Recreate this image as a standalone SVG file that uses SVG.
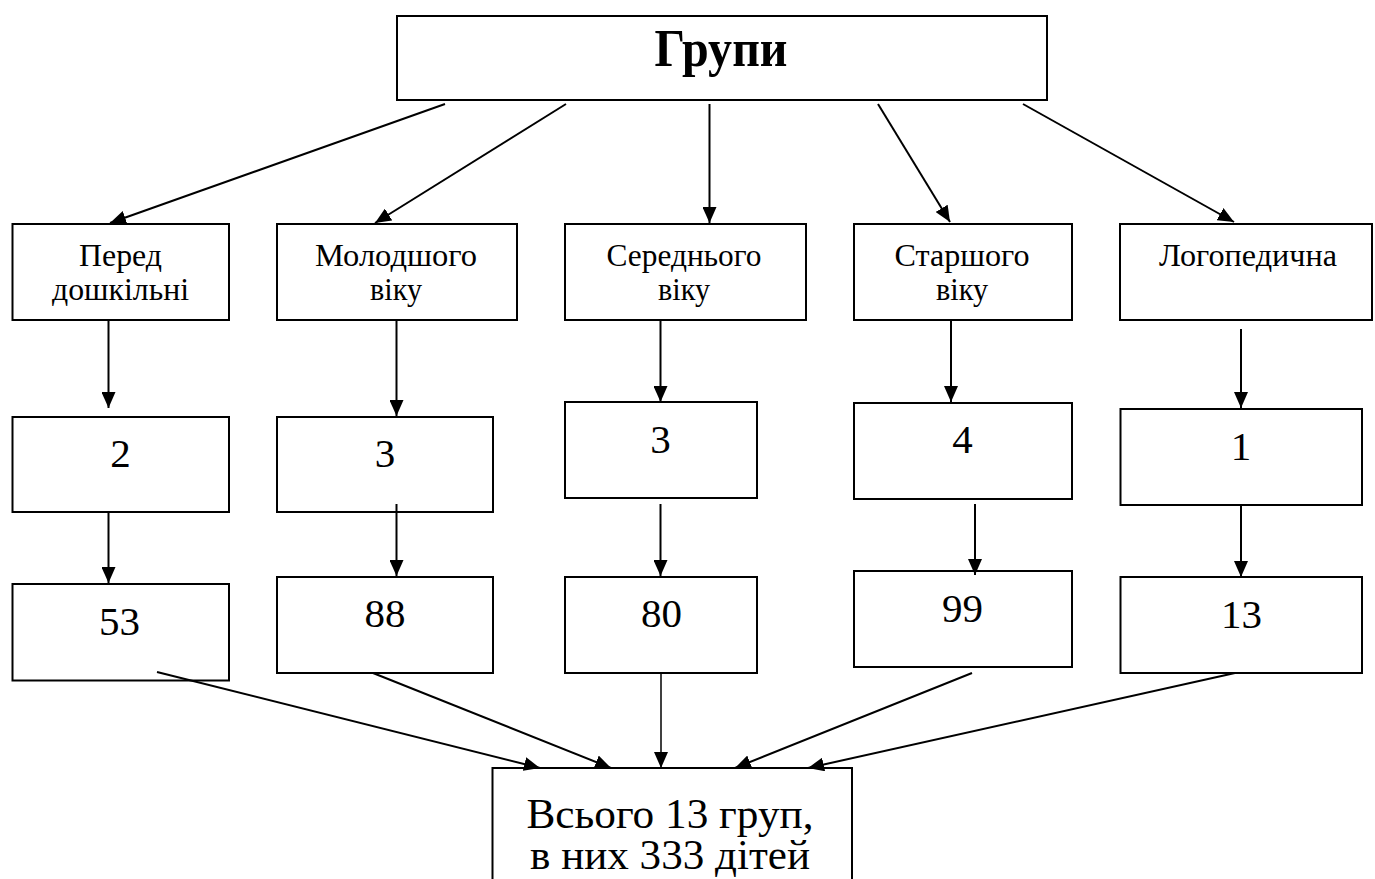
<svg xmlns="http://www.w3.org/2000/svg" width="1375" height="879" viewBox="0 0 1375 879">
<style>
.box{fill:#fff;stroke:#000;stroke-width:2}
.t{font-family:"Liberation Serif","DejaVu Serif",serif;fill:#000;text-anchor:middle}
.lbl{font-size:32px}
.num{font-size:41px}
.ttl{font-size:52px;font-weight:bold}
.big{font-size:42px}
.c{stroke:#000;stroke-width:2;fill:none;marker-end:url(#ah)}
</style>
<defs>
<marker id="ah" markerUnits="userSpaceOnUse" viewBox="0 0 16 14" refX="16" refY="7" markerWidth="16" markerHeight="14" orient="auto">
<path d="M0,0 L16,7 L0,14 z" fill="#000"/>
</marker>
</defs>
<g id="title">
<rect class="box" x="397" y="16" width="650" height="84"/>
<text class="t ttl" x="721" y="66" textLength="133" lengthAdjust="spacingAndGlyphs">Групи</text>
</g>
<g id="g1">
<rect class="box" x="12.5" y="224" width="216.5" height="96"/>
<text class="t lbl" x="120.5" y="266" textLength="83" lengthAdjust="spacingAndGlyphs">Перед</text>
<text class="t lbl" x="120.5" y="300" textLength="137" lengthAdjust="spacingAndGlyphs">дошкільні</text>
</g>
<g id="g2">
<rect class="box" x="277" y="224" width="240" height="96"/>
<text class="t lbl" x="396" y="266" textLength="162" lengthAdjust="spacingAndGlyphs">Молодшого</text>
<text class="t lbl" x="396" y="300" textLength="52" lengthAdjust="spacingAndGlyphs">віку</text>
</g>
<g id="g3">
<rect class="box" x="565" y="224" width="241" height="96"/>
<text class="t lbl" x="684" y="266" textLength="155" lengthAdjust="spacingAndGlyphs">Середнього</text>
<text class="t lbl" x="684" y="300" textLength="52" lengthAdjust="spacingAndGlyphs">віку</text>
</g>
<g id="g4">
<rect class="box" x="854" y="224" width="218" height="96"/>
<text class="t lbl" x="962" y="266" textLength="135" lengthAdjust="spacingAndGlyphs">Старшого</text>
<text class="t lbl" x="962" y="300" textLength="52" lengthAdjust="spacingAndGlyphs">віку</text>
</g>
<g id="g5">
<rect class="box" x="1120" y="224" width="252" height="96"/>
<text class="t lbl" x="1248" y="266" textLength="178" lengthAdjust="spacingAndGlyphs">Логопедична</text>
</g>
<g id="n1">
<rect class="box" x="12.5" y="417" width="216.5" height="95"/>
<text class="t num" x="120.5" y="467">2</text>
</g>
<g id="n2">
<rect class="box" x="277" y="417" width="216" height="95"/>
<text class="t num" x="385" y="467">3</text>
</g>
<g id="n3">
<rect class="box" x="565" y="402" width="192" height="96"/>
<text class="t num" x="660.5" y="453">3</text>
</g>
<g id="n4">
<rect class="box" x="854" y="403" width="218" height="96"/>
<text class="t num" x="962.5" y="453">4</text>
</g>
<g id="n5">
<rect class="box" x="1120.5" y="409" width="241.5" height="96"/>
<text class="t num" x="1241" y="460">1</text>
</g>
<g id="c1">
<rect class="box" x="12.5" y="584" width="216.5" height="96.5"/>
<text class="t num" x="119.5" y="635">53</text>
</g>
<g id="c2">
<rect class="box" x="277" y="577" width="216" height="96"/>
<text class="t num" x="385" y="627">88</text>
</g>
<g id="c3">
<rect class="box" x="565" y="577" width="192" height="96"/>
<text class="t num" x="661.5" y="627">80</text>
</g>
<g id="c4">
<rect class="box" x="854" y="571" width="218" height="96"/>
<text class="t num" x="962.5" y="622">99</text>
</g>
<g id="c5">
<rect class="box" x="1120.5" y="577" width="241.5" height="96"/>
<text class="t num" x="1241.5" y="628">13</text>
</g>
<g id="total">
<rect class="box" x="492.5" y="768" width="359.5" height="130"/>
<text class="t big" x="670" y="828" textLength="287" lengthAdjust="spacingAndGlyphs">Всього 13 груп,</text>
<text class="t big" x="670" y="869" textLength="280" lengthAdjust="spacingAndGlyphs">в них 333 дітей</text>
</g>
<g id="connectors">
<line class="c" x1="445" y1="104" x2="110" y2="223"/>
<line class="c" x1="566" y1="104" x2="375" y2="223"/>
<line class="c" x1="709.5" y1="104" x2="709.5" y2="223"/>
<line class="c" x1="878" y1="104" x2="950" y2="222"/>
<line class="c" x1="1023" y1="104" x2="1234" y2="222"/>
<line class="c" x1="108.5" y1="320" x2="108.5" y2="408"/>
<line class="c" x1="396.5" y1="320" x2="396.5" y2="416"/>
<line class="c" x1="660.5" y1="320" x2="660.5" y2="402"/>
<line class="c" x1="951" y1="320" x2="951" y2="402"/>
<line class="c" x1="1241" y1="329" x2="1241" y2="408"/>
<line class="c" x1="108.5" y1="512" x2="108.5" y2="583"/>
<line class="c" x1="396.5" y1="504" x2="396.5" y2="576"/>
<line class="c" x1="660.5" y1="504" x2="660.5" y2="576"/>
<line class="c" x1="975" y1="504" x2="975" y2="575"/>
<line class="c" x1="1241" y1="505" x2="1241" y2="577"/>
<line class="c" x1="157" y1="672" x2="540" y2="768"/>
<line class="c" x1="373" y1="673" x2="611" y2="768"/>
<line class="c" x1="661" y1="672" x2="661" y2="768" style="stroke-width:1.5"/>
<line class="c" x1="972" y1="673" x2="735" y2="768"/>
<line class="c" x1="1235" y1="673" x2="808" y2="768"/>
</g>
</svg>
